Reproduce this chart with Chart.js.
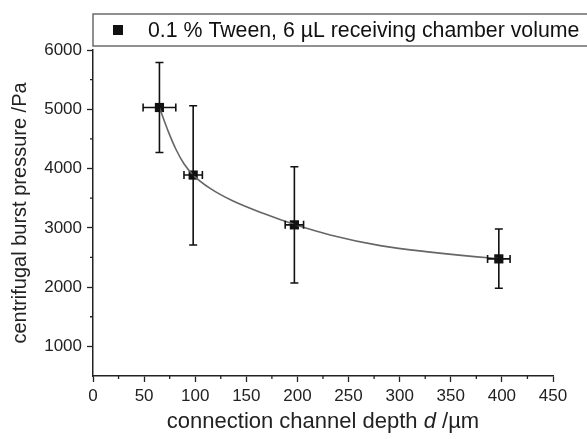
<!DOCTYPE html>
<html>
<head>
<meta charset="utf-8">
<script src="https://cdn.jsdelivr.net/npm/chart.js@4/dist/chart.umd.min.js"></script>
<style>
  html, body { margin: 0; padding: 0; background: #fff; }
  #wrap { width: 587px; height: 439px; }
</style>
</head>
<body>
<div id="wrap"><canvas id="burstChart" width="587" height="439"></canvas></div>
<script>
// measured points (channel depth in µm, burst pressure in Pa)
const depth = [65, 98, 197, 397];
const pressure = [5030, 3890, 3050, 2476];
const depthErr = [16, 9, 9, 11];
const pressureErrHi = [5790, 5060, 4030, 2980];
const pressureErrLo = [4270, 2710, 2070, 1980];

// fitted curve
const fitX = [65, 74, 81, 89, 98, 115, 136, 167, 198, 232, 281, 330, 389, 397];
const fitY = [5030, 4610, 4330, 4080, 3890, 3660, 3460, 3240, 3050, 2880, 2700, 2590, 2490, 2480];

const xTicks = [0, 50, 100, 150, 200, 250, 300, 350, 400, 450];
const yTicks = [1000, 2000, 3000, 4000, 5000, 6000];

const legendLabel = '0.1 % Tween, 6 µL receiving chamber volume';
const FONT = '"Liberation Sans", Arial, sans-serif';

const errorBars = {
  id: 'errorBars',
  afterDatasetsDraw(chart) {
    const { ctx, scales: { x, y } } = chart;
    ctx.save();
    ctx.strokeStyle = '#111';
    ctx.lineWidth = 1.6;
    depth.forEach((d, i) => {
      const px = x.getPixelForValue(d);
      const py = y.getPixelForValue(pressure[i]);
      const top = y.getPixelForValue(pressureErrHi[i]);
      const bot = y.getPixelForValue(pressureErrLo[i]);
      const left = x.getPixelForValue(d - depthErr[i]);
      const right = x.getPixelForValue(d + depthErr[i]);
      ctx.beginPath();
      ctx.moveTo(px, top); ctx.lineTo(px, bot);
      ctx.moveTo(px - 4, top); ctx.lineTo(px + 4, top);
      ctx.moveTo(px - 4, bot); ctx.lineTo(px + 4, bot);
      ctx.moveTo(left, py); ctx.lineTo(right, py);
      ctx.moveTo(left, py - 4); ctx.lineTo(left, py + 4);
      ctx.moveTo(right, py - 4); ctx.lineTo(right, py + 4);
      ctx.stroke();
    });
    ctx.restore();
  }
};

const extras = {
  id: 'extras',
  afterDraw(chart) {
    const { ctx, scales: { x, y } } = chart;
    ctx.save();
    // minor ticks
    ctx.strokeStyle = '#222';
    ctx.lineWidth = 1.3;
    ctx.beginPath();
    for (let v = 25; v < 450; v += 50) {
      const px = x.getPixelForValue(v);
      ctx.moveTo(px, y.bottom); ctx.lineTo(px, y.bottom + 3);
    }
    for (let v = 1500; v < 6000; v += 1000) {
      const py = y.getPixelForValue(v);
      ctx.moveTo(x.left, py); ctx.lineTo(x.left - 3, py);
    }
    ctx.stroke();

    // legend box
    ctx.strokeStyle = '#555';
    ctx.lineWidth = 1.3;
    ctx.strokeRect(93, 14, 520, 32);
    ctx.fillStyle = '#111';
    ctx.fillRect(113, 25, 10, 10);
    ctx.font = '21.3px ' + FONT;
    ctx.textBaseline = 'middle';
    ctx.textAlign = 'left';
    ctx.fillText(legendLabel, 148, 31);

    // x axis title with italic d
    const parts = [
      ['connection channel depth ', '22px ' + FONT],
      ['d', 'italic 22px ' + FONT],
      [' /µm', '22px ' + FONT]
    ];
    let total = 0;
    parts.forEach(p => { ctx.font = p[1]; total += ctx.measureText(p[0]).width; });
    let cx = (x.left + x.right) / 2 - total / 2;
    ctx.fillStyle = '#222';
    parts.forEach(p => {
      ctx.font = p[1];
      ctx.fillText(p[0], cx, 422);
      cx += ctx.measureText(p[0]).width;
    });
    ctx.restore();
  }
};

new Chart(document.getElementById('burstChart'), {
  type: 'scatter',
  data: {
    datasets: [
      {
        label: 'fit',
        data: fitX.map((v, i) => ({ x: v, y: fitY[i] })),
        showLine: true,
        borderColor: '#666',
        borderWidth: 1.6,
        pointRadius: 0,
        cubicInterpolationMode: 'monotone'
      },
      {
        label: legendLabel,
        data: depth.map((v, i) => ({ x: v, y: pressure[i] })),
        pointStyle: 'rect',
        pointRadius: 6.5,
        backgroundColor: '#111',
        borderColor: '#111',
        borderWidth: 0
      }
    ]
  },
  options: {
    responsive: false,
    animation: false,
    layout: { padding: { top: 50, right: 34, left: 0, bottom: 0 } },
    plugins: {
      legend: { display: false },
      tooltip: { enabled: false }
    },
    scales: {
      x: {
        type: 'linear',
        min: 0, max: 450,
        afterBuildTicks: s => { s.ticks = xTicks.map(v => ({ value: v })); },
        afterFit: s => { s.height = 63; },
        grid: { drawOnChartArea: false, tickLength: 6, tickColor: '#222', tickWidth: 1.3 },
        border: { color: '#222', width: 1.5 },
        ticks: { color: '#222', font: { family: FONT, size: 17 }, padding: 4, maxRotation: 0, callback: v => String(v) }
      },
      y: {
        min: 500, max: 6000,
        afterBuildTicks: s => { s.ticks = yTicks.map(v => ({ value: v })); },
        afterFit: s => { s.width = 93; },
        grid: { drawOnChartArea: false, tickLength: 6, tickColor: '#222', tickWidth: 1.3 },
        border: { color: '#222', width: 1.5 },
        ticks: { color: '#222', font: { family: FONT, size: 17 }, padding: 5, callback: v => String(v) },
        title: {
          display: true,
          text: 'centrifugal burst pressure /Pa',
          color: '#222',
          font: { family: FONT, size: 20 },
          padding: { top: 8, bottom: 0 }
        }
      }
    }
  },
  plugins: [errorBars, extras]
});
</script>
</body>
</html>
